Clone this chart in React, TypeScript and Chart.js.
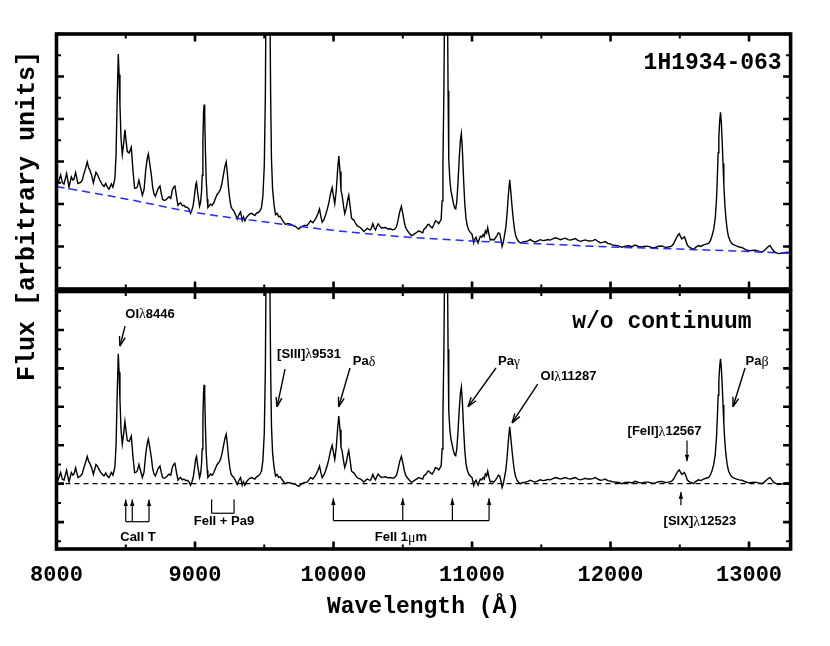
import React, { useEffect, useRef } from 'react';
import { Chart, registerables } from 'chart.js';

Chart.register(...registerables);

// ---------------- DATA ----------------
// Wavelength grid (Å) of the spectrum
const wavelengths = [
  8000, 8012, 8030, 8042, 8054, 8073, 8090, 8107, 8118, 8126, 8138, 8155, 8174, 8186, 8198, 8210, 8222, 8232, 8242, 8255,
  8266, 8285, 8296, 8306, 8318, 8331, 8343, 8355, 8367, 8379, 8396, 8407, 8415, 8422, 8430, 8438, 8446, 8452, 8458, 8466,
  8475, 8485, 8494, 8503, 8511, 8525, 8540, 8552, 8564, 8575, 8583, 8595, 8606, 8620, 8632, 8644, 8655, 8663, 8673, 8685,
  8694, 8704, 8714, 8723, 8735, 8747, 8756, 8766, 8778, 8788, 8800, 8812, 8825, 8836, 8846, 8855, 8866, 8877, 8888, 8896,
  8908, 8920, 8932, 8944, 8956, 8968, 8978, 8987, 8998, 9005, 9011, 9020, 9033, 9040, 9047, 9052, 9057, 9062, 9066, 9070,
  9075, 9081, 9088, 9093, 9102, 9112, 9124, 9136, 9148, 9160, 9172, 9184, 9196, 9208, 9216, 9225, 9233, 9242, 9252, 9261,
  9270, 9280, 9292, 9305, 9317, 9329, 9341, 9350, 9360, 9372, 9384, 9396, 9408, 9420, 9432, 9444, 9456, 9468, 9480, 9490,
  9500, 9508, 9515, 9522, 9528, 9534, 9540, 9546, 9552, 9560, 9570, 9581, 9592, 9605, 9615, 9625, 9640, 9653, 9670, 9689,
  9705, 9726, 9738, 9750, 9762, 9774, 9790, 9810, 9822, 9834, 9851, 9863, 9875, 9888, 9899, 9908, 9918, 9930, 9942, 9955,
  9966, 9978, 9990, 10000, 10009, 10020, 10030, 10038, 10047, 10054, 10062, 10072, 10081, 10092, 10102, 10110, 10120, 10130, 10138, 10146,
  10158, 10170, 10182, 10195, 10207, 10219, 10231, 10243, 10255, 10267, 10276, 10284, 10294, 10303, 10312, 10322, 10334, 10346, 10360, 10375,
  10393, 10411, 10426, 10442, 10455, 10466, 10478, 10490, 10500, 10512, 10521, 10531, 10545, 10562, 10575, 10587, 10600, 10615, 10630, 10644,
  10652, 10668, 10680, 10688, 10700, 10712, 10724, 10736, 10748, 10760, 10770, 10777, 10784, 10790, 10797, 10803, 10810, 10816, 10822, 10827,
  10832, 10840, 10848, 10856, 10866, 10875, 10882, 10890, 10899, 10908, 10916, 10923, 10930, 10940, 10948, 10957, 10966, 10976, 10988, 11000,
  11012, 11020, 11029, 11036, 11044, 11052, 11060, 11070, 11080, 11088, 11096, 11105, 11113, 11122, 11132, 11145, 11157, 11170, 11181, 11190,
  11200, 11210, 11217, 11226, 11234, 11244, 11253, 11262, 11272, 11280, 11289, 11298, 11306, 11315, 11325, 11337, 11349, 11367, 11385, 11403,
  11421, 11439, 11457, 11475, 11493, 11511, 11529, 11547, 11565, 11583, 11601, 11620, 11638, 11656, 11674, 11692, 11710, 11728, 11746, 11764,
  11782, 11800, 11818, 11836, 11854, 11872, 11890, 11908, 11926, 11944, 11962, 11980, 11998, 12010, 12034, 12058, 12082, 12106, 12130, 12154,
  12178, 12202, 12226, 12250, 12275, 12299, 12323, 12347, 12371, 12395, 12419, 12440, 12455, 12467, 12479, 12490, 12496, 12505, 12515, 12525,
  12534, 12544, 12554, 12565, 12575, 12590, 12599, 12617, 12635, 12653, 12671, 12690, 12708, 12720, 12732, 12745, 12756, 12765, 12772, 12777,
  12782, 12788, 12794, 12800, 12806, 12812, 12818, 12825, 12833, 12842, 12852, 12866, 12881, 12896, 12912, 12930, 12948, 12972, 12996, 13020,
  13044, 13068, 13092, 13110, 13128, 13140, 13152, 13164, 13176, 13195, 13213, 13231, 13249, 13270, 13300,
];

// Continuum-subtracted flux (arbitrary units)
const residualFlux = [
  0.18, 0.10, 0.29, 0.12, 0.09, 0.35, 0.04, 0.29, 0.22, 0.25, 0.41, 0.16, 0.20, 0.26, 0.42, 0.55, 0.71, 0.58, 0.52, 0.40,
  0.24, 0.50, 0.45, 0.38, 0.30, 0.24, 0.20, 0.28, 0.20, 0.16, 0.29, 0.22, 0.33, 0.45, 1.00, 2.30, 3.38, 2.90, 2.20, 1.40,
  1.03, 1.30, 1.62, 1.35, 1.12, 1.10, 1.24, 0.70, 0.29, 0.30, 0.33, 0.50, 0.35, 0.16, 0.30, 0.76, 1.05, 1.16, 0.95, 0.68,
  0.40, 0.25, 0.20, 0.29, 0.40, 0.46, 0.30, 0.16, 0.14, 0.16, 0.20, 0.25, 0.22, 0.42, 0.50, 0.53, 0.30, 0.09, 0.14, 0.16,
  0.10, 0.12, 0.08, 0.09, 0.05, -0.04, 0.05, 0.16, 0.45, 0.65, 0.71, 0.45, 0.16, 0.25, 0.50, 0.90, 1.70, 2.40, 2.57, 2.30,
  1.50, 0.80, 0.35, 0.16, 0.20, 0.25, 0.22, 0.29, 0.40, 0.50, 0.55, 0.63, 0.80, 1.03, 1.18, 1.29, 1.05, 0.68, 0.40, 0.24,
  0.20, 0.16, 0.08, -0.02, 0.09, 0.16, -0.04, 0.05, -0.04, 0.05, 0.10, 0.14, 0.16, 0.14, 0.12, 0.18, 0.20, 0.24, 0.33, 0.60,
  1.30, 3.00, 6.50, 9.50, 10.0, 8.50, 5.50, 3.00, 1.50, 0.80, 0.45, 0.20, 0.24, 0.16, 0.18, 0.12, 0.05, 0.00, 0.03, 0.02,
  0.00, -0.02, -0.05, -0.07, -0.02, 0.00, 0.03, 0.04, 0.10, 0.16, 0.12, 0.18, 0.25, 0.35, 0.46, 0.30, 0.16, 0.22, 0.33, 0.48,
  0.63, 0.85, 1.00, 0.80, 0.63, 0.95, 1.45, 1.76, 1.40, 0.95, 0.85, 0.60, 0.42, 0.55, 0.75, 0.86, 0.60, 0.33, 0.30, 0.29,
  0.22, 0.16, 0.14, 0.12, 0.08, 0.04, 0.08, 0.12, 0.10, 0.09, 0.16, 0.24, 0.15, 0.10, 0.18, 0.25, 0.20, 0.16, 0.17, 0.18,
  0.15, 0.16, 0.14, 0.16, 0.22, 0.38, 0.58, 0.71, 0.55, 0.33, 0.22, 0.16, 0.10, 0.04, 0.06, 0.09, 0.12, 0.16, 0.14, 0.12,
  0.20, 0.25, 0.32, 0.33, 0.28, 0.25, 0.32, 0.42, 0.40, 0.36, 0.42, 0.46, 0.90, 1.80, 3.50, 6.00, 9.00, 9.50, 6.00, 3.50,
  1.90, 1.40, 1.15, 1.02, 0.85, 0.75, 0.73, 0.90, 1.37, 1.95, 2.35, 2.51, 2.15, 1.37, 0.85, 0.51, 0.35, 0.25, 0.20, 0.16,
  -0.04, 0.05, 0.09, 0.02, -0.04, 0.05, 0.12, 0.10, 0.16, 0.12, 0.25, 0.20, 0.33, 0.18, 0.04, 0.06, 0.04, 0.10, 0.16, 0.22,
  0.20, 0.05, -0.10, 0.00, 0.16, 0.35, 0.68, 1.10, 1.48, 1.20, 0.85, 0.55, 0.33, 0.18, 0.09, 0.03, 0.00, 0.03, 0.04, 0.06,
  0.09, 0.06, 0.04, 0.07, 0.10, 0.08, 0.09, 0.11, 0.10, 0.13, 0.16, 0.14, 0.12, 0.14, 0.16, 0.13, 0.12, 0.14, 0.16, 0.12,
  0.10, 0.12, 0.14, 0.12, 0.12, 0.13, 0.16, 0.12, 0.09, 0.10, 0.12, 0.08, 0.07, 0.05, 0.04, 0.03, 0.00, 0.03, 0.04, 0.02,
  0.06, 0.03, 0.02, 0.04, 0.04, 0.01, 0.02, 0.05, 0.06, 0.03, 0.04, 0.06, 0.12, 0.20, 0.28, 0.34, 0.36, 0.30, 0.24, 0.27,
  0.29, 0.20, 0.10, 0.06, 0.04, 0.02, 0.00, 0.06, 0.10, 0.08, 0.12, 0.14, 0.16, 0.22, 0.33, 0.50, 0.76, 1.20, 1.80, 2.30,
  2.67, 3.05, 3.25, 3.00, 2.58, 2.05, 1.55, 1.10, 0.76, 0.50, 0.33, 0.22, 0.16, 0.14, 0.12, 0.10, 0.09, 0.05, 0.02, 0.03,
  0.04, 0.02, 0.00, 0.04, 0.10, 0.14, 0.16, 0.10, 0.04, 0.00, -0.02, -0.01, 0.00, 0.02, 0.01,
];

// Fitted continuum (blue dashed curve in the upper panel)
const continuumWavelengths = [8000, 8500, 9000, 9500, 10000, 10500, 11000, 11500, 12000, 12500, 13000, 13300];
const continuumFlux = [2.41, 2.12, 1.80, 1.58, 1.38, 1.23, 1.13, 1.06, 0.99, 0.94, 0.88, 0.84];

// Axis ticks
const xTickLabels = [8000, 9000, 10000, 11000, 12000, 13000];
const xMin = 8000;
const xMax = 13300;
const topYMin = 0;
const topYMax = 6;
const botYMin = -1.7;
const botYMax = 5;

// Texts
const objectName = '1H1934-063';
const lowerPanelTitle = 'w/o continuum';
const xAxisTitle = 'Wavelength (Å)';
const yAxisTitle = 'Flux [arbitrary units]';

// ---------------- ANNOTATION LAYOUT (data coordinates of the lower panel) ----------------
type Seg = [string, boolean];
const lineLabels: { text: Seg[]; lx: number; ly: number; tail: [number, number]; head: [number, number]; small?: boolean }[] = [
  { text: [['OI', false], ['λ', true], ['8446', false]], lx: 8675, ly: 4.41, tail: [8495, 4.1], head: [8458, 3.58] },
  { text: [['[SIII]', false], ['λ', true], ['9531', false]], lx: 9823, ly: 3.37, tail: [9650, 2.98], head: [9592, 2.0] },
  { text: [['Pa', false], ['δ', true]], lx: 10220, ly: 3.17, tail: [10119, 3.01], head: [10037, 2.0] },
  { text: [['Pa', false], ['γ', true]], lx: 11267, ly: 3.17, tail: [11173, 3.01], head: [10971, 2.0] },
  { text: [['OI', false], ['λ', true], ['11287', false]], lx: 11697, ly: 2.78, tail: [11474, 2.59], head: [11289, 1.58] },
  { text: [['[FeII]', false], ['λ', true], ['12567', false]], lx: 12390, ly: 1.35, tail: [12552, 1.12], head: [12552, 0.58], small: true },
  { text: [['Pa', false], ['β', true]], lx: 13058, ly: 3.17, tail: [12971, 3.01], head: [12884, 2.0] },
  { text: [['[SIX]', false], ['λ', true], ['12523', false]], lx: 12645, ly: -0.99, tail: [12508, -0.56], head: [12508, -0.22], small: true },
];

const groupMarks: { text: Seg[]; lx: number; ly: number; xs: number[]; yLine: number; yEnd: number; arrows: boolean }[] = [
  { text: [['CaII T', false]], lx: 8588, ly: -1.41, xs: [8500, 8547, 8668], yLine: -0.99, yEnd: -0.41, arrows: true },
  { text: [['FeII + Pa9', false]], lx: 9209, ly: -0.99, xs: [9120, 9282], yLine: -0.77, yEnd: -0.41, arrows: false },
  { text: [['FeII 1', false], ['μ', true], ['m', false]], lx: 10487, ly: -1.41, xs: [9999, 10500, 10858, 11123], yLine: -0.96, yEnd: -0.38, arrows: true },
];

// ---------------- HELPERS ----------------
const MONO = "'Liberation Mono', 'DejaVu Sans Mono', monospace";
const SANS_B = "bold 13px 'Liberation Sans', Arial, sans-serif";
const GREEK = "14px 'Liberation Serif', 'DejaVu Serif', serif";

function continuumAt(w: number): number {
  for (let i = 0; i < continuumWavelengths.length - 1; i++) {
    const a = continuumWavelengths[i];
    const b = continuumWavelengths[i + 1];
    if (w >= a && w <= b) {
      const t = (w - a) / (b - a);
      return continuumFlux[i] + t * (continuumFlux[i + 1] - continuumFlux[i]);
    }
  }
  return continuumFlux[continuumFlux.length - 1];
}

function drawRich(ctx: CanvasRenderingContext2D, segs: Seg[], cx: number, cy: number) {
  let total = 0;
  const widths = segs.map(([t, g]) => {
    ctx.font = g ? GREEK : SANS_B;
    const w = ctx.measureText(t).width;
    total += w;
    return w;
  });
  let x = cx - total / 2;
  ctx.textBaseline = 'middle';
  ctx.textAlign = 'left';
  ctx.fillStyle = '#000';
  segs.forEach(([t, g], i) => {
    ctx.font = g ? GREEK : SANS_B;
    ctx.fillText(t, x, cy + (g ? 0.5 : 0));
    x += widths[i];
  });
}

function drawArrow(ctx: CanvasRenderingContext2D, x1: number, y1: number, x2: number, y2: number, small: boolean) {
  ctx.strokeStyle = '#000';
  ctx.fillStyle = '#000';
  ctx.lineWidth = small ? 1.2 : 1.4;
  ctx.beginPath();
  ctx.moveTo(x1, y1);
  ctx.lineTo(x2, y2);
  ctx.stroke();
  const ang = Math.atan2(y2 - y1, x2 - x1);
  const len = small ? 7 : 10;
  const spread = small ? 0.32 : 0.3;
  ctx.beginPath();
  ctx.moveTo(x2, y2);
  ctx.lineTo(x2 - len * Math.cos(ang - spread), y2 - len * Math.sin(ang - spread));
  if (small) {
    ctx.lineTo(x2 - len * Math.cos(ang + spread), y2 - len * Math.sin(ang + spread));
    ctx.closePath();
    ctx.fill();
  } else {
    ctx.moveTo(x2, y2);
    ctx.lineTo(x2 - len * Math.cos(ang + spread), y2 - len * Math.sin(ang + spread));
    ctx.stroke();
  }
}

function drawFrameAndTicks(chart: any, yMin: number, yMax: number) {
  const { ctx, chartArea: a, scales } = chart;
  const x = scales.x;
  const y = scales.y;
  ctx.save();
  ctx.strokeStyle = '#000';
  ctx.lineCap = 'butt';
  for (let v = xMin; v <= xMax; v += 500) {
    const major = v % 1000 === 0;
    const px = x.getPixelForValue(v);
    const len = major ? 7.5 : 4.5;
    ctx.lineWidth = major ? 2.6 : 2.0;
    ctx.beginPath();
    ctx.moveTo(px, a.top);
    ctx.lineTo(px, a.top + len);
    ctx.moveTo(px, a.bottom);
    ctx.lineTo(px, a.bottom - len);
    ctx.stroke();
  }
  for (let v = Math.ceil(yMin * 2) / 2; v <= yMax + 1e-9; v += 0.5) {
    const major = Math.abs(v - Math.round(v)) < 1e-6;
    const py = y.getPixelForValue(v);
    const len = major ? 7.5 : 4.5;
    ctx.lineWidth = major ? 2.6 : 2.0;
    ctx.beginPath();
    ctx.moveTo(a.left, py);
    ctx.lineTo(a.left + len, py);
    ctx.moveTo(a.right, py);
    ctx.lineTo(a.right - len, py);
    ctx.stroke();
  }
  ctx.lineWidth = 3.6;
  ctx.strokeRect(a.left, a.top, a.right - a.left, a.bottom - a.top);
  ctx.restore();
}

const topPlugin = {
  id: 'topDecor',
  afterDatasetsDraw(chart: any) {
    drawFrameAndTicks(chart, topYMin, topYMax);
    const { ctx, chartArea: a } = chart;
    ctx.save();
    ctx.font = `bold 23px ${MONO}`;
    ctx.fillStyle = '#000';
    ctx.textAlign = 'right';
    ctx.textBaseline = 'middle';
    ctx.fillText(objectName, a.right - 9, a.top + 29);
    ctx.restore();
  },
};

const bottomPlugin = {
  id: 'bottomDecor',
  afterDatasetsDraw(chart: any) {
    const { ctx, chartArea: a, scales } = chart;
    const x = scales.x;
    const y = scales.y;
    drawFrameAndTicks(chart, botYMin, botYMax);
    ctx.save();
    // panel title
    ctx.font = `bold 23px ${MONO}`;
    ctx.fillStyle = '#000';
    ctx.textAlign = 'right';
    ctx.textBaseline = 'middle';
    ctx.fillText(lowerPanelTitle, a.right - 39, a.top + 31);

    // line identifications
    lineLabels.forEach((L) => {
      drawRich(ctx, L.text, x.getPixelForValue(L.lx), y.getPixelForValue(L.ly));
      drawArrow(
        ctx,
        x.getPixelForValue(L.tail[0]),
        y.getPixelForValue(L.tail[1]),
        x.getPixelForValue(L.head[0]),
        y.getPixelForValue(L.head[1]),
        !!L.small
      );
    });

    groupMarks.forEach((G) => {
      const yl = y.getPixelForValue(G.yLine);
      const ye = y.getPixelForValue(G.yEnd);
      ctx.strokeStyle = '#000';
      ctx.lineWidth = 1.2;
      ctx.beginPath();
      ctx.moveTo(x.getPixelForValue(G.xs[0]), yl);
      ctx.lineTo(x.getPixelForValue(G.xs[G.xs.length - 1]), yl);
      ctx.stroke();
      G.xs.forEach((w) => {
        const px = x.getPixelForValue(w);
        if (G.arrows) {
          drawArrow(ctx, px, yl, px, ye, true);
        } else {
          ctx.beginPath();
          ctx.moveTo(px, yl);
          ctx.lineTo(px, ye);
          ctx.stroke();
        }
      });
      drawRich(ctx, G.text, x.getPixelForValue(G.lx), y.getPixelForValue(G.ly));
    });

    // x tick labels
    ctx.font = `bold 22px ${MONO}`;
    ctx.fillStyle = '#000';
    ctx.textAlign = 'center';
    ctx.textBaseline = 'middle';
    xTickLabels.forEach((v) => {
      ctx.fillText(String(v), x.getPixelForValue(v), a.bottom + 26);
    });
    // x title
    ctx.font = `bold 23px ${MONO}`;
    ctx.fillText(xAxisTitle, (a.left + a.right) / 2, a.bottom + 58);
    // y title
    ctx.translate(28, 216);
    ctx.rotate(-Math.PI / 2);
    ctx.font = `bold 25px ${MONO}`;
    ctx.fillText(yAxisTitle, 0, 0);
    ctx.restore();
  },
};

const commonScales = (ymin: number, ymax: number) => ({
  x: { type: 'linear' as const, min: xMin, max: xMax, display: false },
  y: { type: 'linear' as const, min: ymin, max: ymax, display: false },
});

const commonOptions = {
  responsive: false,
  animation: false as const,
  events: [] as any[],
  plugins: { legend: { display: false }, tooltip: { enabled: false } },
};

export default function App() {
  const topRef = useRef<HTMLCanvasElement>(null);
  const botRef = useRef<HTMLCanvasElement>(null);

  useEffect(() => {
    const spectrumTop = wavelengths.map((w, i) => ({ x: w, y: continuumAt(w) + residualFlux[i] }));
    const spectrumBot = wavelengths.map((w, i) => ({ x: w, y: residualFlux[i] }));
    const continuum = continuumWavelengths.map((w, i) => ({ x: w, y: continuumFlux[i] }));

    const top = new Chart(topRef.current as HTMLCanvasElement, {
      type: 'line',
      data: {
        datasets: [
          {
            data: continuum,
            borderColor: 'rgb(40,40,255)',
            borderWidth: 1.5,
            borderDash: [8, 5],
            pointRadius: 0,
            cubicInterpolationMode: 'monotone',
            clip: 0,
          },
          {
            data: spectrumTop,
            borderColor: '#000',
            borderWidth: 1.4,
            pointRadius: 0,
            tension: 0,
            clip: 0,
          },
        ],
      },
      options: {
        ...commonOptions,
        layout: { padding: { left: 56.5, right: 39.4, top: 34, bottom: 646 - 289 } },
        scales: commonScales(topYMin, topYMax),
      } as any,
      plugins: [topPlugin],
    });

    const bot = new Chart(botRef.current as HTMLCanvasElement, {
      type: 'line',
      data: {
        datasets: [
          {
            data: [
              { x: xMin, y: 0 },
              { x: xMax, y: 0 },
            ],
            borderColor: '#000',
            borderWidth: 1.3,
            borderDash: [5, 4],
            pointRadius: 0,
            clip: 0,
          },
          {
            data: spectrumBot,
            borderColor: '#000',
            borderWidth: 1.4,
            pointRadius: 0,
            tension: 0,
            clip: 0,
          },
        ],
      },
      options: {
        ...commonOptions,
        layout: { padding: { left: 56.5, right: 39.4, top: 291.5, bottom: 97 } },
        scales: commonScales(botYMin, botYMax),
      } as any,
      plugins: [bottomPlugin],
    });

    return () => {
      top.destroy();
      bot.destroy();
    };
  }, []);

  return (
    <div style={{ position: 'fixed', left: 0, top: 0, width: 830, height: 646, background: '#fff' }}>
      <canvas ref={botRef} width={830} height={646} style={{ position: 'absolute', left: 0, top: 0 }} />
      <canvas ref={topRef} width={830} height={646} style={{ position: 'absolute', left: 0, top: 0 }} />
    </div>
  );
}
